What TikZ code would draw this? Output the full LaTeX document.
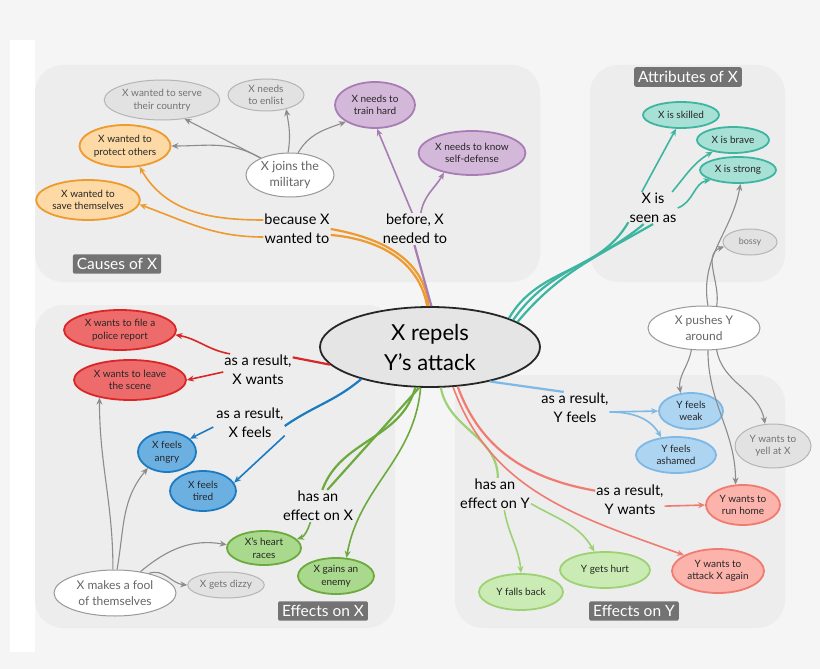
\documentclass[tikz,border=0pt]{standalone}
\usepackage{fontspec}
\setmainfont{Lato}
\usetikzlibrary{shapes.geometric,arrows.meta}
\definecolor{bg}{HTML}{F5F5F5}
\definecolor{panel}{HTML}{EDEDED}
\definecolor{tag}{HTML}{737373}
\definecolor{orf}{HTML}{FCD9A5}\definecolor{ord}{HTML}{EE9A2E}
\definecolor{puf}{HTML}{D4B8DA}\definecolor{pud}{HTML}{A77DB4}
\definecolor{tef}{HTML}{A7E1D6}\definecolor{ted}{HTML}{3DB5A0}
\definecolor{ref}{HTML}{EE6B6B}\definecolor{red}{HTML}{D92626}
\definecolor{blf}{HTML}{6CB0E2}\definecolor{bld}{HTML}{1C7BC0}
\definecolor{lbf}{HTML}{ADD5F2}\definecolor{lbd}{HTML}{7DB8E6}
\definecolor{grf}{HTML}{A9D98C}\definecolor{grd}{HTML}{6DAA3E}
\definecolor{lgf}{HTML}{CBEBB4}\definecolor{lgd}{HTML}{9DD274}
\definecolor{pkf}{HTML}{FBB3AB}\definecolor{pkd}{HTML}{F07B70}
\definecolor{gyf}{HTML}{E2E2E2}\definecolor{gyd}{HTML}{B5B5B5}
\tikzset{
 nd/.style={ellipse,draw,line width=1.8pt,inner sep=1pt,align=center,font=\fontsize{10}{12.5}\selectfont,text=black!85},
 gy/.style={ellipse,draw=gyd,fill=gyf,line width=1pt,inner sep=1pt,align=center,font=\fontsize{10}{12.5}\selectfont,text=black!55},
 wh/.style={ellipse,draw=black!40,fill=white,line width=1pt,inner sep=1pt,align=center,font=\fontsize{12.5}{16}\selectfont,text=black!60},
 lab/.style={align=center,font=\fontsize{14.5}{19}\selectfont,inner sep=1pt},
 tg/.style={fill=tag,text=white,rounded corners=2pt,font=\fontsize{15.5}{18}\selectfont,inner sep=4pt},
 pn/.style={fill=panel,rounded corners=28pt},
 ar/.style={-{Stealth[length=7pt,width=6pt]},line width=1.6pt},
 ga/.style={-{Stealth[length=7pt,width=6pt]},line width=1.1pt,draw=black!45},
 th/.style={line width=2.2pt}
}
\begin{document}
\begin{tikzpicture}[x=1pt,y=-1pt]
\useasboundingbox (0,0) rectangle (820,669);
\fill[bg] (0,0) rectangle (820,669);
\fill[white] (10,40) rectangle (35,652);
\fill[pn] (35,65) rectangle (540,282);
\fill[pn] (590,65) rectangle (785,282);
\fill[pn] (35,305) rectangle (395,628);
\fill[pn] (455,375) rectangle (785,628);
\node[tg] (tc) at (117,264) {Causes of X};
\node[tg] (ta) at (688,77) {Attributes of X};
\node[tg] (tx) at (323,611) {Effects on X};
\node[tg] (ty) at (634,611) {Effects on Y};

\node[ellipse,draw=black!85,fill=black!10,line width=1.8pt,minimum width=220pt,minimum height=80pt,align=center,font=\fontsize{22}{30}\selectfont] (c) at (430,347) {X repels\\Y's attack};

% causes
\node[gy,minimum width=100pt,minimum height=40pt] (serve) at (162,100) {X wanted to serve\\their country};
\node[gy,minimum width=76pt,minimum height=32pt] (enlist) at (266,95) {X needs\\to enlist};
\node[nd,draw=pud,fill=puf,minimum width=80pt,minimum height=46pt] (train) at (375,105) {X needs to\\train hard};
\node[nd,draw=pud,fill=puf,minimum width=102pt,minimum height=44pt] (self) at (472,153) {X needs to know\\self-defense};
\node[wh,minimum width=88pt,minimum height=44pt] (mil) at (290,175) {X joins the\\military};
\node[nd,draw=ord,fill=orf,minimum width=90pt,minimum height=42pt] (prot) at (125,146) {X wanted to\\protect others};
\node[nd,draw=ord,fill=orf,minimum width=102pt,minimum height=40pt] (save) at (88,200) {X wanted to\\save themselves};
\node[lab] (bx) at (297,229) {because X\\wanted to};
\node[lab] (bn) at (415,229) {before, X\\needed to};
\draw[ga] (mil) to[out=150,in=0] (prot);
\draw[ga] (mil.150) -- (serve.-40);
\draw[ga] (mil.95) to[out=80,in=-80] (enlist.-35);
\draw[ga] (mil.70) to[out=60,in=200] (train.-150);
\draw[th,ord] (c.92) to[out=95,in=-10] (bx.east);
\draw[th,ord] (c.94) to[out=100,in=-5] (bx.-10);
\draw[ar,ord] (bx.west) ++(0,-9) to[out=180,in=-60] (prot.-55);
\draw[ar,ord] (bx.west) ++(0,8) to[out=180,in=-20] (save.-5);
\draw[th,pud] (c.88) -- (bn.-92);
\draw[ar,pud] (bn.100) -- (train.-85);
\draw[ar,pud] (bn.70) to[out=80,in=-120] (self.-145);

% attributes
\node[nd,draw=ted,fill=tef,minimum width=76pt,minimum height=26pt] (sk) at (681,115) {X is skilled};
\node[nd,draw=ted,fill=tef,minimum width=72pt,minimum height=26pt] (br) at (733,140) {X is brave};
\node[nd,draw=ted,fill=tef,minimum width=76pt,minimum height=26pt] (st) at (738,170) {X is strong};
\node[lab] (seen) at (653,208) {X is\\seen as};
\draw[th,ted] (c.20) to[out=60,in=-120] (seen.-150);
\draw[th,ted] (c.18) to[out=55,in=-140] (seen.-120);
\draw[th,ted] (c.16) to[out=50,in=-150] (seen.-90);
\draw[ar,ted] (seen.125) -- (sk.-110);
\draw[ar,ted] (seen.40) to[out=50,in=-150] (br.-150);
\draw[ar,ted] (seen.east) to[out=20,in=-170] (st.-160);
\node[gy,minimum width=54pt,minimum height=26pt,font=\fontsize{9}{11}\selectfont] (bossy) at (750,242) {bossy};
\node[wh,minimum width=112pt,minimum height=44pt,font=\fontsize{12}{16}\selectfont] (push) at (704,328) {X pushes Y\\around};
\node[gy,minimum width=76pt,minimum height=44pt] (yell) at (773,446) {Y wants to\\yell at X};
\draw[ga] (push.80) to[out=100,in=-100] (st.-80);
\draw[ga] (push.60) to[out=80,in=200] (bossy.-170);
\draw[ga] (push.-60) to[out=-80,in=100] (yell.110);

% effects on X
\node[nd,draw=red,fill=ref,minimum width=112pt,minimum height=40pt] (pol) at (120,330) {X wants to file a\\police report};
\node[nd,draw=red,fill=ref,minimum width=112pt,minimum height=40pt] (leave) at (130,380) {X wants to leave\\the scene};
\node[lab] (xw) at (258,370) {as a result,\\X wants};
\draw[th,red] (c.190) -- (xw.20);
\draw[ar,red] (xw.150) to[out=170,in=-10] (pol.-5);
\draw[ar,red] (xw.west) ++(0,2) -- (leave.east);
\node[lab] (xf) at (250,423) {as a result,\\X feels};
\node[nd,draw=bld,fill=blf,minimum width=58pt,minimum height=40pt] (ang) at (167,452) {X feels\\angry};
\node[nd,draw=bld,fill=blf,minimum width=66pt,minimum height=40pt] (tir) at (203,491) {X feels\\tired};
\draw[th,bld] (c.-155) to[out=-140,in=35] (xf.-5);
\draw[ar,bld] (xf.west) ++(-2,4) -- (ang.30);
\draw[ar,bld] (xf.-20) -- (tir.15);
\node[lab] (ex) at (318,506) {has an\\effect on X};
\node[nd,draw=grd,fill=grf,minimum width=74pt,minimum height=34pt] (heart) at (264,548) {X's heart\\races};
\node[nd,draw=grd,fill=grf,minimum width=76pt,minimum height=36pt] (enemy) at (336,576) {X gains an\\enemy};
\draw[th,grd] (c.-110) to[out=-105,in=70] (ex.75);
\draw[th,grd] (c.-105) -- (ex.60);
\draw[ar,grd] (ex.-115) to[out=-110,in=20] (heart.15);
\draw[ar,grd] (c.-103) to[out=-95,in=80] (enemy.60);
\node[wh,minimum width=122pt,minimum height=46pt,font=\fontsize{12}{16}\selectfont] (fool) at (115,593) {X makes a fool\\of themselves};
\node[gy,minimum width=68pt,minimum height=26pt] (dizzy) at (226,585) {X gets dizzy};
\draw[ga] (fool.95) to[out=90,in=-90] (leave.-150);
\draw[ga] (fool.85) to[out=80,in=-130] (ang.-140);
\draw[ga] (fool.40) to[out=40,in=170] (heart.175);
\draw[ga] (fool.30) to[out=20,in=175] (dizzy.west);

% effects on Y
\node[lab] (yf) at (575,408) {as a result,\\Y feels};
\node[nd,draw=lbd,fill=lbf,minimum width=64pt,minimum height=36pt] (weak) at (691,411) {Y feels\\weak};
\node[nd,draw=lbd,fill=lbf,minimum width=80pt,minimum height=36pt] (sham) at (676,455) {Y feels\\ashamed};
\draw[th,lbd] (c.-30) -- (yf.125);
\draw[ar,lbd] (yf.east) ++(0,4) -- (weak.west);
\draw[ar,lbd] (yf.east) ++(0,4) to[out=0,in=120] (sham.130);
\draw[ga] (push.-120) to[out=-100,in=100] (weak.120);
\node[lab] (ey) at (495,494) {has an\\effect on Y};
\node[nd,draw=lgd,fill=lgf,minimum width=84pt,minimum height=36pt] (fall) at (521,592) {Y falls back};
\node[nd,draw=lgd,fill=lgf,minimum width=90pt,minimum height=36pt] (hurt) at (605,570) {Y gets hurt};
\draw[th,lgd] (c.-75) to[out=-80,in=90] (ey.80);
\draw[ar,lgd] (ey.-60) to[out=-80,in=95] (fall.90);
\draw[ar,lgd] (ey.-15) to[out=-30,in=120] (hurt.120);
\node[lab] (yw) at (630,500) {as a result,\\Y wants};
\node[nd,draw=pkd,fill=pkf,minimum width=74pt,minimum height=40pt] (run) at (743,505) {Y wants to\\run home};
\node[nd,draw=pkd,fill=pkf,minimum width=92pt,minimum height=44pt] (atk) at (718,571) {Y wants to\\attack X again};
\draw[th,pkd] (c.-55) to[out=-70,in=170] (yw.165);
\draw[ar,pkd] (yw.-10) -- (run.west);
\draw[ar,pkd] (c.-60) to[out=-70,in=160] (atk.155);
\draw[ga] (push.-80) to[out=-90,in=90] (run.110);
\end{tikzpicture}
\end{document}
